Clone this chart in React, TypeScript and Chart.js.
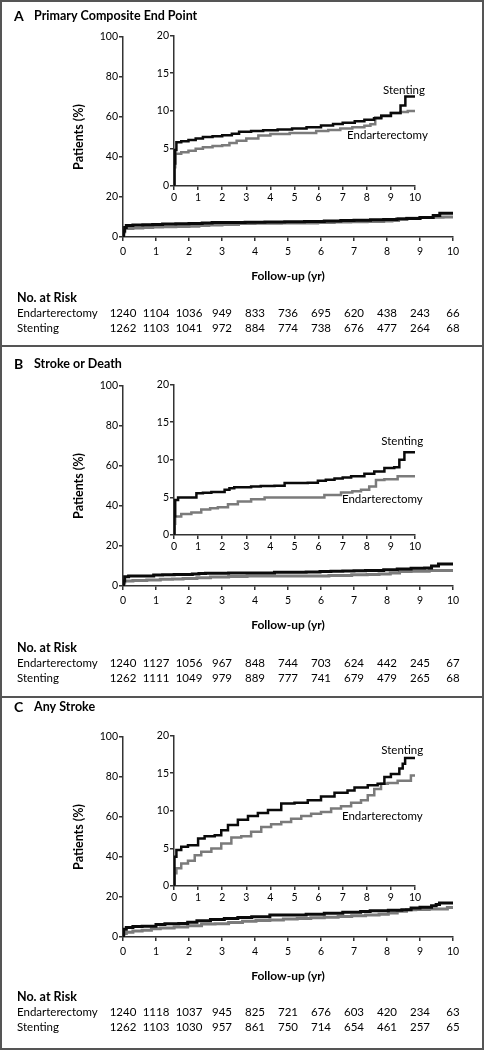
import React, { useEffect, useRef } from "react";
import { Chart, registerables } from "chart.js";

Chart.register(...registerables);

const FONT = "Lato, 'Open Sans', 'DejaVu Sans', sans-serif";
const TEXT = "#000000";
const AXIS = "#333333";
const STENT_COLOR = "#0a0a0a";
const ENDO_COLOR = "#7b7b7b";
const FRAME = "#555555";

const years = [0, 1, 2, 3, 4, 5, 6, 7, 8, 9, 10];
const seriesNames = ["Endarterectomy", "Stenting"];

// Panel A — Primary Composite End Point
const aStentT = [0, 0.02, 0.05, 0.1, 0.3, 0.6, 0.9, 1.2, 1.6, 2.0, 2.4, 2.7, 3.2, 3.7, 4.3, 4.9, 5.5, 6.1, 6.6, 7.0, 7.5, 7.9, 8.3, 8.6, 9.0, 9.4, 9.6, 10];
const aStentV = [0, 3.0, 4.8, 5.8, 5.95, 6.1, 6.3, 6.5, 6.6, 6.75, 6.95, 7.2, 7.3, 7.4, 7.5, 7.65, 7.8, 8.05, 8.25, 8.4, 8.6, 8.8, 9.0, 9.3, 9.7, 10.7, 11.9, 11.9];
const aEndoT = [0, 0.02, 0.05, 0.3, 0.6, 0.9, 1.2, 1.6, 2.0, 2.3, 2.6, 3.0, 3.5, 4.0, 4.8, 5.9, 6.4, 6.9, 7.4, 7.9, 8.15, 8.35, 8.6, 9.0, 9.4, 9.7, 10];
const aEndoV = [0, 2.5, 4.3, 4.5, 4.7, 4.95, 5.15, 5.3, 5.4, 5.7, 6.0, 6.3, 6.7, 6.9, 7.05, 7.3, 7.45, 7.64, 7.8, 8.0, 8.2, 9.1, 9.4, 9.7, 9.85, 9.97, 9.97];
const aRiskEndo = [1240, 1104, 1036, 949, 833, 736, 695, 620, 438, 243, 66];
const aRiskStent = [1262, 1103, 1041, 972, 884, 774, 738, 676, 477, 264, 68];

// Panel B — Stroke or Death
const bStentT = [0, 0.02, 0.05, 0.17, 0.93, 1.2, 1.55, 2.1, 2.3, 2.5, 3.2, 3.6, 4.17, 4.59, 5.55, 5.97, 6.3, 6.66, 7.0, 7.35, 7.9, 8.31, 8.73, 9.14, 9.35, 9.56, 10];
const bStentV = [0, 2.5, 4.65, 5.0, 5.55, 5.6, 5.7, 6.0, 6.2, 6.35, 6.45, 6.5, 6.55, 6.9, 6.95, 7.2, 7.35, 7.5, 7.65, 7.8, 8.15, 8.45, 8.9, 9.0, 10.0, 11.0, 11.0];
const bEndoT = [0, 0.02, 0.05, 0.3, 0.72, 1.13, 1.5, 1.82, 2.24, 2.65, 3.2, 3.76, 6.24, 6.93, 7.4, 7.76, 8.1, 8.38, 8.73, 9.28, 10];
const bEndoV = [0, 1.5, 2.45, 2.8, 3.0, 3.4, 3.55, 3.7, 4.1, 4.45, 4.75, 5.0, 5.3, 5.65, 5.8, 6.0, 6.45, 7.3, 7.4, 7.8, 7.8];
const bRiskEndo = [1240, 1127, 1056, 967, 848, 744, 703, 624, 442, 245, 67];
const bRiskStent = [1262, 1111, 1049, 979, 889, 777, 741, 679, 479, 265, 68];

// Panel C — Any Stroke
const cStentT = [0, 0.02, 0.1, 0.3, 0.58, 1.0, 1.27, 1.69, 1.96, 2.24, 2.65, 3.07, 3.48, 3.9, 4.45, 5.0, 5.55, 6.1, 6.66, 7.2, 7.49, 8.04, 8.45, 8.73, 9.0, 9.35, 9.49, 9.59, 10];
const cStentV = [0, 3.9, 4.8, 5.2, 5.4, 6.3, 6.6, 6.75, 7.4, 8.1, 8.8, 9.3, 9.7, 10.1, 10.95, 11.05, 11.4, 11.9, 12.4, 12.7, 13.1, 13.4, 13.6, 14.5, 14.9, 15.6, 16.25, 17.0, 17.0];
const cEndoT = [0, 0.02, 0.1, 0.3, 0.58, 0.86, 1.13, 1.55, 1.96, 2.38, 2.79, 3.2, 3.62, 4.03, 4.45, 4.86, 5.28, 5.69, 6.1, 6.52, 6.93, 7.35, 7.76, 8.04, 8.31, 8.59, 8.87, 9.28, 9.83, 10];
const cEndoV = [0, 1.7, 2.35, 3.0, 3.35, 4.1, 4.55, 5.0, 5.65, 6.45, 6.6, 7.2, 7.85, 8.2, 8.5, 8.95, 9.3, 9.6, 9.85, 10.3, 10.6, 11.05, 11.4, 12.05, 12.9, 13.6, 13.7, 14.0, 14.7, 14.7];
const cRiskEndo = [1240, 1118, 1037, 945, 825, 721, 676, 603, 420, 234, 63];
const cRiskStent = [1262, 1103, 1030, 957, 861, 750, 714, 654, 461, 257, 65];

type PanelDef = {
  letter: string;
  title: string;
  top: number;
  titleY: number;
  tableY: number;
  stentT: number[];
  stentV: number[];
  endoT: number[];
  endoV: number[];
  riskEndo: number[];
  riskStent: number[];
  stentLabel: [number, number];
  endoLabel: [number, number];
};

const panels: PanelDef[] = [
  { letter: "A", title: "Primary Composite End Point", top: 0, titleY: 16, tableY: 298,
    stentT: aStentT, stentV: aStentV, endoT: aEndoT, endoV: aEndoV, riskEndo: aRiskEndo, riskStent: aRiskStent,
    stentLabel: [8.67, 12.7], endoLabel: [7.18, 6.75] },
  { letter: "B", title: "Stroke or Death", top: 349, titleY: 15, tableY: 299,
    stentT: bStentT, stentV: bStentV, endoT: bEndoT, endoV: bEndoV, riskEndo: bRiskEndo, riskStent: bRiskStent,
    stentLabel: [8.6, 12.5], endoLabel: [6.97, 4.8] },
  { letter: "C", title: "Any Stroke", top: 700, titleY: 7, tableY: 297,
    stentT: cStentT, stentV: cStentV, endoT: cEndoT, endoV: cEndoV, riskEndo: cRiskEndo, riskStent: cRiskStent,
    stentLabel: [8.6, 18.1], endoLabel: [6.97, 9.27] },
];

const pts = (t: number[], v: number[]) => t.map((x, i) => ({ x, y: v[i] }));

function makeDatasets(p: PanelDef, w: number) {
  return [
    { label: seriesNames[1], data: pts(p.stentT, p.stentV), borderColor: STENT_COLOR, borderWidth: w,
      stepped: true, pointRadius: 0, fill: false, tension: 0 },
    { label: seriesNames[0], data: pts(p.endoT, p.endoV), borderColor: ENDO_COLOR, borderWidth: w,
      stepped: true, pointRadius: 0, fill: false, tension: 0 },
  ];
}

function axis(min: number, max: number, step: number, tickPad: number, extra: any) {
  return {
    type: "linear",
    min, max,
    ticks: { stepSize: step, autoSkip: false, maxRotation: 0, padding: tickPad, color: TEXT,
      font: { family: FONT, size: 10.5 } },
    grid: { drawOnChartArea: false, drawTicks: true, tickLength: 4, color: AXIS, lineWidth: 1.5 },
    border: { display: true, color: AXIS, width: 1.5 },
    ...extra,
  };
}

function Panel({ p }: { p: PanelDef }) {
  const mainRef = useRef<HTMLCanvasElement>(null);
  const insetRef = useRef<HTMLCanvasElement>(null);

  useEffect(() => {
    const textPlugin = {
      id: "panelText",
      afterDraw(chart: any) {
        const ctx = chart.ctx;
        const xs = chart.scales.x;
        ctx.save();
        ctx.fillStyle = TEXT;
        ctx.textBaseline = "middle";
        ctx.textAlign = "left";
        ctx.font = `bold 14px ${FONT}`;
        ctx.fillText(p.letter, 14, p.titleY);
        ctx.font = `bold 12.5px ${FONT}`;
        ctx.fillText(p.title, 34, p.titleY);
        ctx.fillText("No. at Risk", 17, p.tableY);
        ctx.font = `11.5px ${FONT}`;
        ctx.fillText(seriesNames[0], 17, p.tableY + 15);
        ctx.fillText(seriesNames[1], 17, p.tableY + 30);
        ctx.textAlign = "center";
        years.forEach((yr, i) => {
          const x = xs.getPixelForValue(yr);
          ctx.fillText(String(p.riskEndo[i]), x, p.tableY + 15);
          ctx.fillText(String(p.riskStent[i]), x, p.tableY + 30);
        });
        ctx.restore();
      },
    };

    const main = new Chart(mainRef.current as HTMLCanvasElement, {
      type: "line",
      data: { datasets: makeDatasets(p, 3) as any },
      options: {
        animation: false,
        responsive: false,
        devicePixelRatio: 1,
        layout: { padding: { left: 71, top: 37, right: 31, bottom: 56 } },
        plugins: { legend: { display: false }, tooltip: { enabled: false }, title: { display: false } },
        scales: {
          x: axis(0, 10, 1, 4, {
            title: { display: true, text: "Follow-up (yr)", color: TEXT, padding: { top: 0, bottom: 1 },
              font: { family: FONT, size: 12, weight: "bold" } },
            afterFit: (s: any) => { s.height = 47; },
          }),
          y: axis(0, 100, 20, 1, {
            title: { display: true, text: "Patients (%)", color: TEXT, padding: 0,
              font: { family: FONT, size: 12.5, weight: "bold" } },
            afterFit: (s: any) => { s.width = 52; },
          }),
        } as any,
      },
      plugins: [textPlugin],
    });

    const labelPlugin = {
      id: "curveLabels",
      afterDraw(chart: any) {
        const ctx = chart.ctx;
        const xs = chart.scales.x;
        const ys = chart.scales.y;
        ctx.save();
        ctx.fillStyle = TEXT;
        ctx.textBaseline = "middle";
        ctx.textAlign = "left";
        ctx.font = `11.5px ${FONT}`;
        ctx.fillText(seriesNames[1], xs.getPixelForValue(p.stentLabel[0]), ys.getPixelForValue(p.stentLabel[1]));
        ctx.fillText(seriesNames[0], xs.getPixelForValue(p.endoLabel[0]), ys.getPixelForValue(p.endoLabel[1]));
        ctx.restore();
      },
    };

    const inset = new Chart(insetRef.current as HTMLCanvasElement, {
      type: "line",
      data: { datasets: makeDatasets(p, 2.5) as any },
      options: {
        animation: false,
        responsive: false,
        devicePixelRatio: 1,
        layout: { padding: { left: 0, top: 15.5, right: 15, bottom: 4 } },
        plugins: { legend: { display: false }, tooltip: { enabled: false }, title: { display: false } },
        scales: {
          x: axis(0, 10, 1, 1.5, { afterFit: (s: any) => { s.height = 20; } }),
          y: axis(0, 20, 5, 1, { afterFit: (s: any) => { s.width = 44; } }),
        } as any,
      },
      plugins: [labelPlugin],
    });

    return () => {
      main.destroy();
      inset.destroy();
    };
  }, []);

  return (
    <>
      <canvas ref={mainRef} width={484} height={340}
        style={{ position: "absolute", left: 0, top: p.top, width: 484, height: 340 }} />
      <canvas ref={insetRef} width={300} height={190}
        style={{ position: "absolute", left: 130, top: p.top + 20, width: 300, height: 190 }} />
    </>
  );
}

export default function App() {
  return (
    <div style={{ position: "absolute", left: 0, top: 0, width: 484, height: 1050, background: "#fff", overflow: "hidden" }}>
      <div style={{ position: "absolute", left: 0, top: 0, width: 484, height: 1050, boxSizing: "border-box",
        border: `2px solid ${FRAME}` }} />
      <div style={{ position: "absolute", left: 0, top: 345, width: 484, height: 2, background: FRAME }} />
      <div style={{ position: "absolute", left: 0, top: 696, width: 484, height: 2, background: FRAME }} />
      {panels.map((p) => <Panel key={p.letter} p={p} />)}
    </div>
  );
}
